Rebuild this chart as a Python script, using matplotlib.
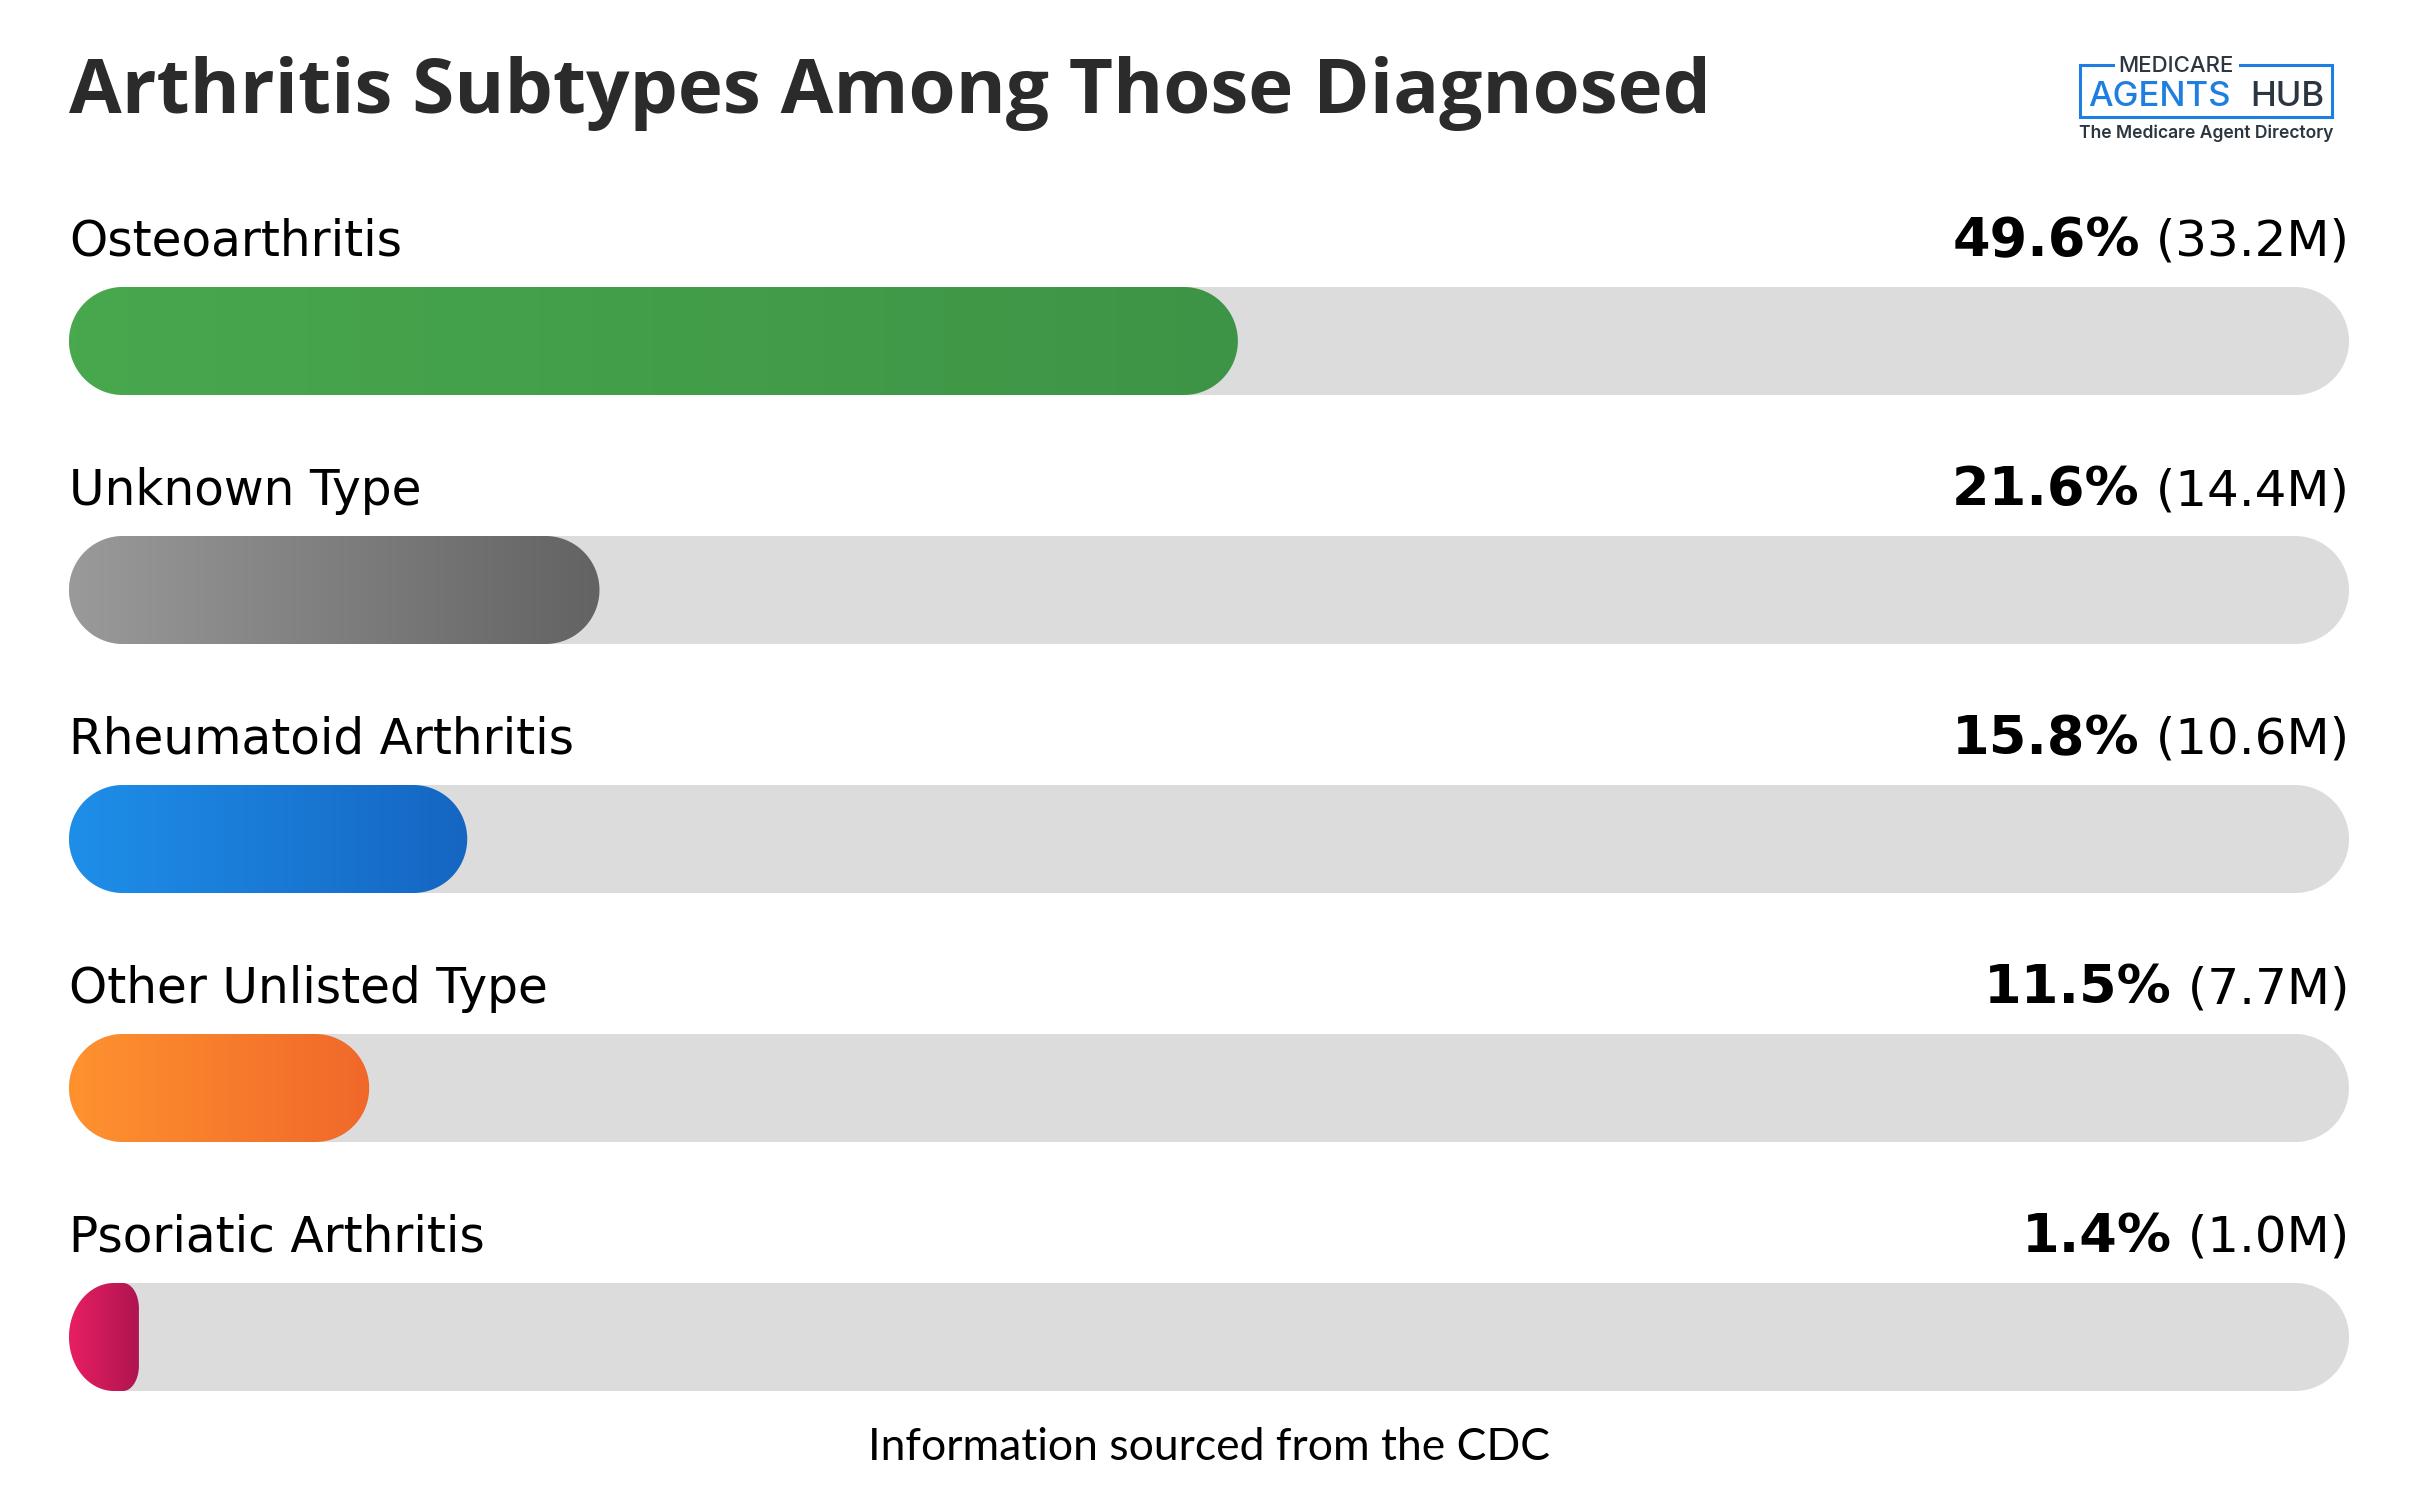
import numpy as np
import matplotlib
matplotlib.use('Agg')
import matplotlib.pyplot as plt
from matplotlib.patches import Polygon
from matplotlib.colors import LinearSegmentedColormap

# data
categories = ['Osteoarthritis', 'Unknown Type', 'Rheumatoid Arthritis',
              'Other Unlisted Type', 'Psoriatic Arthritis']
percents = [49.6, 21.6, 15.8, 11.5, 1.4]
counts = ['33.2M', '14.4M', '10.6M', '7.7M', '1.0M']
grad_left = ['#48A84E', '#9A9A9A', '#1E8FE9', '#FF922F', '#E91E63']
grad_right = ['#3E9446', '#636363', '#1566C2', '#F0682A', '#AE1550']

W, H = 2418, 1494
fig = plt.figure(figsize=(W / 100, H / 100), dpi=100)
fig.patch.set_facecolor('white')

# bar axes: x in percent over the track, y in row index
track_x0, track_x1 = 69, 2349
row0_y, pitch = 341, 249
bar_h = 108 / pitch
ax = fig.add_axes([track_x0 / W, (H - (row0_y + 4.5 * pitch)) / H,
                   (track_x1 - track_x0) / W, 5.5 * pitch / H])
ax.set_xlim(0, 100)
ax.set_ylim(4.5, -1.0)
ax.axis('off')

px_x = 100 / (track_x1 - track_x0)
px_y = 1 / pitch
radius_px = 54
cap_pad = 38 * px_x


def pill(x, y, w, h, **kw):
    # left end: half circle; right end: corners shrink for very short bars
    w_px = w / px_x
    lr = radius_px
    rx = min(radius_px, max(w_px - radius_px, 12))
    ry = min(radius_px, max(rx * 1.6, 12))
    n = 40
    pts = []
    cx = w_px - rx
    for a in np.linspace(-np.pi / 2, 0, n):
        pts.append((cx + rx * np.cos(a), ry + ry * np.sin(a) - radius_px))
    for a in np.linspace(0, np.pi / 2, n):
        pts.append((cx + rx * np.cos(a), radius_px - ry + ry * np.sin(a)))
    lx = min(lr, w_px / 2 + 10)
    for a in np.linspace(np.pi / 2, 3 * np.pi / 2, 2 * n):
        pts.append((lx + lx * np.cos(a), lr * np.sin(a)))
    pts = np.array(pts)
    xs = x + pts[:, 0] * px_x
    ys = y + pts[:, 1] * px_y
    p = Polygon(np.column_stack([xs, ys]), closed=True, linewidth=0, **kw)
    ax.add_patch(p)
    return p


grad = np.linspace(0, 1, 256).reshape(1, -1)
for i, (pct, c0, c1) in enumerate(zip(percents, grad_left, grad_right)):
    pill(0, i, 100, bar_h, facecolor='#DCDCDC')
    w = pct + cap_pad
    clip = pill(0, i, w, bar_h, facecolor='none')
    cmap = LinearSegmentedColormap.from_list(f'g{i}', [c0, c1])
    im = ax.imshow(grad, cmap=cmap, aspect='auto', interpolation='bicubic',
                   extent=(0, w, i + bar_h / 2, i - bar_h / 2), zorder=2)
    im.set_clip_path(clip)

ax.set_xlim(0, 100)
ax.set_ylim(4.5, -1.0)

# text
label_font = 'DejaVu Sans'
renderer = fig.canvas.get_renderer()
for i, (cat, pct, cnt) in enumerate(zip(categories, percents, counts)):
    base = (row0_y - 54 - 31 + i * pitch)
    yb = 1 - base / H
    fig.text(69 / W, yb, cat, fontsize=35, family=label_font,
             color='black', va='baseline', ha='left')
    t = fig.text(track_x1 / W, yb, f' ({cnt})', fontsize=36, family=label_font,
                 color='black', va='baseline', ha='right')
    bb = t.get_window_extent(renderer)
    fig.text(bb.x0 / W, yb, f'{pct}%', fontsize=39, family=label_font,
             weight='bold', color='black', va='baseline', ha='right')

fig.text(69 / W, 1 - 113 / H, 'Arthritis Subtypes Among Those Diagnosed',
         fontsize=55, weight='bold', family='Open Sans', color='#2B2B2B',
         va='baseline', ha='left')

fig.text(0.5, 1 - 1460 / H, 'Information sourced from the CDC',
         fontsize=32, family='Lato', color='black', va='baseline', ha='center')

# logo
lay = fig.add_axes([0, 0, 1, 1], zorder=5)
lay.set_xlim(0, W)
lay.set_ylim(H, 0)
lay.axis('off')
blue, dark = '#1E7FE0', '#2B3640'
bx0, bx1, by0, by1 = 2080, 2332, 65, 117
lay.plot([2113, bx0, bx0, bx1, bx1, 2240], [by0, by0, by1, by1, by0, by0],
         color=blue, lw=2.2, solid_joinstyle='miter')
lay.text(2176, by0 + 1, 'MEDICARE', fontsize=16, family='Inter', weight='medium',
         color=dark, ha='center', va='center')
lay.text(2088, 106, 'AGENTS', fontsize=25, family='Inter', weight='medium',
         color=blue, ha='left', va='baseline')
lay.text(2324, 106, 'HUB', fontsize=25, family='Inter', weight='medium',
         color=dark, ha='right', va='baseline')
lay.text(2206, 138, 'The Medicare Agent Directory', fontsize=12.6, family='Inter',
         weight='semibold', color=dark, ha='center', va='baseline')

fig.savefig('out.png', dpi=100, facecolor='white')
